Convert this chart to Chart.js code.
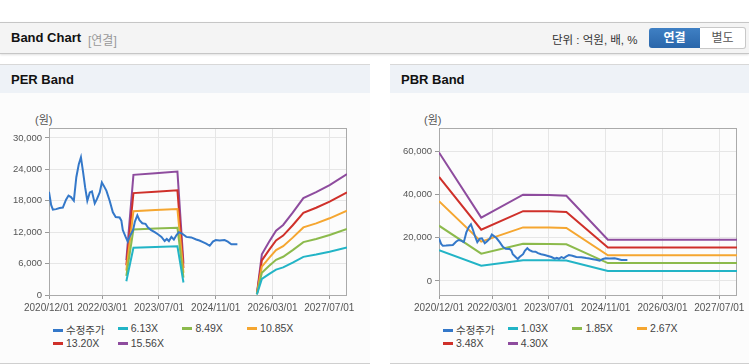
<!DOCTYPE html>
<html lang="ko">
<head>
<meta charset="UTF-8">
<title>Band Chart</title>
<style>
    body { margin: 0; width: 749px; height: 364px; background: #fff; position: relative; overflow: hidden;
           font-family: "Liberation Sans", Arial, "Noto Sans CJK KR", sans-serif; color: #333; }
    .topbar { position: absolute; left: 0; top: 22px; width: 749px; height: 30px; background: #f4f4f4;
              border-top: 1px solid #c6c6c6; border-bottom: 1px solid #c6c6c6; box-shadow: 0 1px 2px rgba(0,0,0,0.12); }
    .topbar .title { position: absolute; left: 11px; top: 7px; font-size: 13px; font-weight: bold; color: #111; }
    .topbar .sub { position: absolute; left: 88px; top: 8px; font-size: 12px; color: #999; }
    .topbar .unit { position: absolute; left: 552px; top: 8px; font-size: 11.5px; color: #333; }
    .btn { position: absolute; top: 5px; height: 20px; line-height: 20px; text-align: center; font-size: 12px; font-weight: bold; }
    .btn.on { left: 649px; width: 51px; background: linear-gradient(#3f80c4, #2a66aa); color: #fff; border-radius: 3px 0 0 3px; }
    .btn.off { left: 700px; width: 45px; background: #fff; color: #555; border: 1px solid #c8c8c8; border-left: none; top: 4px; border-radius: 0 3px 3px 0; font-weight: normal; }
    .panel { position: absolute; top: 64px; height: 298px; background: #fcfcfc; border-top: 1px solid #d8d8d8; border-bottom: 1px solid #cfcfcf; }
    .panel .head { height: 28px; background: #eef2f7; }
    .panel .head span { position: absolute; left: 11px; top: 7px; font-size: 13px; font-weight: bold; color: #111; }
    .unitlbl { position: absolute; top: 46px; font-size: 11px; color: #555; }
    canvas { position: absolute; top: 35px; }
    .legend { position: absolute; left: 0; top: 0; font-size: 10.5px; color: #444; }
    .legend div { position: absolute; white-space: nowrap; }
    .legend i { display: inline-block; width: 10px; height: 3px; margin-right: 3px; vertical-align: middle; position: relative; top: -1px; }
</style>
</head>
<body>
<div class="topbar">
    <span class="title">Band Chart</span><span class="sub">[연결]</span>
    <span class="unit">단위 : 억원, 배, %</span>
    <span class="btn on">연결</span><span class="btn off">별도</span>
</div>

<div class="panel" id="perPanel" style="left:0; width:370px;">
    <div class="head"><span>PER Band</span></div>
    <span class="unitlbl" style="left:35px;">(원)</span>
    <canvas id="perChart" width="370" height="215" style="left:0;"></canvas>
    <div class="legend" id="perLegend"></div>
</div>

<div class="panel" id="pbrPanel" style="left:390px; width:359px;">
    <div class="head"><span>PBR Band</span></div>
    <span class="unitlbl" style="left:34px;">(원)</span>
    <canvas id="pbrChart" width="359" height="215" style="left:0;"></canvas>
    <div class="legend" id="pbrLegend"></div>
</div>

<script src="https://cdn.jsdelivr.net/npm/chart.js@4.4.0/dist/chart.umd.min.js"></script>
<script>
    // x axis: months since 2020/12/01
    const xTickLabels = ['2020/12/01', '2022/03/01', '2023/07/01', '2024/11/01', '2026/03/01', '2027/07/01'];
    const xEndLabel = '2027/12/01';

    // adjusted share price (수정주가), same series in both charts
    const priceMonths = [0, 0.6, 1.1, 2.0, 3.0, 3.9, 4.8, 5.5, 6.2, 7.0, 7.7, 8.4, 9.0, 9.6, 10.2, 10.8, 11.5, 12.1,
        12.9, 13.5, 14.3, 14.9, 15.5, 16.2, 17.1, 18.0, 18.8, 19.9, 20.4, 20.8, 21.6, 22.2, 22.7, 23.7, 24.2, 24.9,
        25.5, 26.3, 27.2, 27.9, 28.8, 29.8, 30.7, 31.7, 32.6, 33.2, 33.8, 34.5, 35.2, 35.9, 36.6, 37.6, 38.7, 40.1,
        41.5, 42.4, 43.4, 44.3, 45.3, 46.2, 47.0, 48.1, 49.5, 50.4, 51.4, 53.1];
    const priceValues = [19700, 17200, 16300, 16400, 16600, 16700, 18200, 19000, 18700, 18000, 22500, 25000, 26300,
        23500, 20500, 18000, 19600, 19800, 17500, 18300, 19600, 21500, 20800, 19900, 18000, 15800, 14900, 14800,
        14200, 12400, 11100, 10200, 11100, 12400, 14000, 15200, 14300, 13700, 13600, 12900, 12400, 12000, 11600,
        11100, 10300, 10700, 10300, 11100, 10600, 11400, 12000, 11700, 11100, 11000, 10600, 10400, 10100, 9800,
        9400, 10200, 10500, 10400, 10500, 10200, 9700, 9700];

    // PER bands (null = gap)
    const perNames = ['6.13X', '8.49X', '10.85X', '13.20X', '15.56X'];
    const perMonths = [21.8, 23.8, 30, 36.2, 37.9, 48, 58.6, 60, 62, 64, 66, 68.7, 71.7, 75.3, 79.1, 84];
    const per613  = [2640, 9040, 9160, 9290, 2390, null, 90, 3070, 3980, 4840, 5270, 6190, 7290, 7740, 8280, 9100];
    const per849  = [3650, 12520, 12690, 12860, 3310, null, 130, 4250, 5520, 6710, 7300, 8580, 10100, 10710, 11460, 12610];
    const per1085 = [4670, 16000, 16220, 16440, 4230, null, 160, 5430, 7050, 8570, 9330, 10960, 12910, 13690, 14650, 16110];
    const per1320 = [5680, 19470, 19730, 20000, 5150, null, 200, 6600, 8580, 10430, 11350, 13330, 15710, 16660, 17820, 19600];
    const per1556 = [6690, 22950, 23260, 23570, 6070, null, 230, 7780, 10110, 12290, 13380, 15720, 18520, 19640, 21010, 23110];
    const perYTicks = [0, 6000, 12000, 18000, 24000, 30000];

    // PBR bands
    const pbrNames = ['1.03X', '1.85X', '2.67X', '3.48X', '4.30X'];
    const pbrMonths = [0, 11.9, 23.7, 31, 35.9, 47.6, 84];
    const pbr103 = [14270, 7040, 9580, 9550, 9470, 4600, 4600];
    const pbr185 = [25620, 12640, 17210, 17150, 17000, 8300, 8300];
    const pbr267 = [36980, 18240, 24830, 24750, 24540, 11900, 11900];
    const pbr348 = [48200, 23770, 32360, 32260, 31980, 15500, 15500];
    const pbr430 = [59560, 29370, 39990, 39860, 39520, 19100, 19100];
    const pbrYTicks = [0, 20000, 40000, 60000];

    const priceName = '수정주가';
    const colors = ['#3478c9', '#22b4c6', '#8cba4c', '#f5a630', '#cf302a', '#8e4c9e'];
    const fontFamily = '"Liberation Sans", Arial, sans-serif';

    function monthsSince(label) {
        const p = label.split('/').map(Number);
        return (p[0] - 2020) * 12 + (p[1] - 12);
    }

    function points(months, values) {
        return months.map((m, i) => ({ x: m, y: values[i] }));
    }

    // grey box round the plot area
    const frame = {
        id: 'frame',
        beforeDatasetsDraw(chart) {
            const a = chart.chartArea, ctx = chart.ctx;
            ctx.save();
            ctx.strokeStyle = '#aaaaaa';
            ctx.lineWidth = 1;
            ctx.strokeRect(Math.round(a.left) + 0.5, Math.round(a.top) + 0.5,
                Math.round(a.right - a.left) - 1, Math.round(a.bottom - a.top));
            ctx.restore();
        }
    };

    function makeChart(canvasId, legendId, names, months, bands, yMin, yMax, yTicks, padRight) {
        const labels = [priceName].concat(names);
        const datasets = [{ label: priceName, data: points(priceMonths, priceValues), borderColor: colors[0] }]
            .concat(bands.map((b, i) => ({ label: names[i], data: points(months, b), borderColor: colors[i + 1] })));

        new Chart(document.getElementById(canvasId), {
            type: 'line',
            data: { datasets: datasets },
            options: {
                responsive: false,
                animation: false,
                layout: { padding: { top: 28, right: padRight, left: 0, bottom: 0 } },
                plugins: { legend: { display: false }, tooltip: { enabled: false } },
                elements: { point: { radius: 0 }, line: { borderWidth: 2, tension: 0 } },
                scales: {
                    x: {
                        type: 'linear', min: 0, max: monthsSince(xEndLabel),
                        afterBuildTicks: s => { s.ticks = xTickLabels.map(l => ({ value: monthsSince(l) })); },
                        afterFit: s => { s.height = 20; },
                        ticks: { callback: (v, i) => xTickLabels[i], color: '#555', font: { size: 10, family: fontFamily },
                                 padding: 3, maxRotation: 0, autoSkip: false },
                        grid: { color: '#e6e6e6', tickColor: '#999', tickLength: 4 },
                        border: { display: false }
                    },
                    y: {
                        min: yMin, max: yMax,
                        afterBuildTicks: s => { s.ticks = yTicks.map(v => ({ value: v })); },
                        afterFit: s => { s.width = 49; },
                        ticks: { callback: v => v.toLocaleString('en-US'), color: '#555', font: { size: 9.5, family: fontFamily }, padding: 3 },
                        grid: { color: '#e6e6e6', tickColor: '#999', tickLength: 4 },
                        border: { display: false }
                    }
                }
            },
            plugins: [frame]
        });

        // legend in fixed columns
        const box = document.getElementById(legendId);
        labels.forEach((name, i) => {
            const d = document.createElement('div');
            d.style.left = (53 + (i % 4) * 64.7) + 'px';
            d.style.top = (257 + Math.floor(i / 4) * 15) + 'px';
            d.innerHTML = '<i style="background:' + colors[i] + '"></i>' + name;
            box.appendChild(d);
        });
    }

    makeChart('perChart', 'perLegend', perNames, perMonths, [per613, per849, per1085, per1320, per1556],
        0, 31900, perYTicks, 23);
    makeChart('pbrChart', 'pbrLegend', pbrNames, pbrMonths, [pbr103, pbr185, pbr267, pbr348, pbr430],
        -6500, 70900, pbrYTicks, 12);
</script>
</body>
</html>
